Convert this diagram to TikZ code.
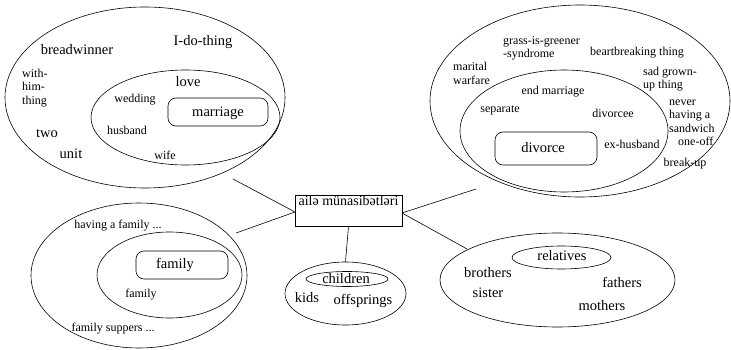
\documentclass[tikz,border=0pt]{standalone}
\usepackage{fontspec}
\setmainfont{Liberation Serif}
\usetikzlibrary{shapes.geometric}
\begin{document}
\begin{tikzpicture}[x=1pt,y=-1pt,
  ell/.style={draw, ellipse, inner sep=0pt, line width=0.6pt},
  rbox/.style={draw, rounded corners=8pt, inner sep=0pt, line width=0.6pt},
  big/.style={font=\fontsize{14.5}{16}\selectfont, inner sep=0pt},
  small/.style={font=\fontsize{12}{13.5}\selectfont, inner sep=0pt, align=left},
  conn/.style={line width=0.6pt}]
\useasboundingbox (0,0) rectangle (731,350);
% top-left cluster
\node[ell, minimum width=280pt, minimum height=181pt] (tlo) at (145,97.5) {};
\node[ell, minimum width=189pt, minimum height=95pt] (tli) at (185.5,117.5) {};
\node[rbox, minimum width=100pt, minimum height=28pt] (marriagebox) at (218,112) {};
\node[big] (marriage) at (218,113) {marriage};
\node[big] (breadwinner) at (77,50) {breadwinner};
\node[big] (idothing) at (203,42) {I-do-thing};
\node[small, anchor=west] (withhim) at (22,88) {with-\\him-\\thing};
\node[big] (two) at (47,133) {two};
\node[big] (unit) at (71,154) {unit};
\node[big] (love) at (188,82) {love};
\node[small] (wedding) at (135,100) {wedding};
\node[small] (husband) at (127,130) {husband};
\node[small] (wife) at (165,155) {wife};
% top-right cluster
\node[ell, minimum width=300pt, minimum height=192pt] (tro) at (580,101) {};
\node[ell, minimum width=208pt, minimum height=122pt] (tri) at (564,131) {};
\node[rbox, minimum width=102pt, minimum height=33pt] (divorcebox) at (546,148.5) {};
\node[big] (divorce) at (543,148) {divorce};
\node[small, anchor=west] (grass) at (503,48.5) {grass-is-greener\\-syndrome};
\node[small] (beart) at (637,53) {beartbreaking thing};
\node[small, anchor=west] (marital) at (453,73.5) {marital\\warfare};
\node[small, anchor=west] (sad) at (643,79) {sad grown-\\up thing};
\node[small] (endmarriage) at (553,92) {end marriage};
\node[small] (separate) at (500,110) {separate};
\node[small] (divorcee) at (613,113) {divorcee};
\node[small, anchor=west] (never) at (669,116) {never\\having a\\sandwich};
\node[small, anchor=west] (oneoff) at (678,141) {one-off};
\node[small] (exhusband) at (632,144) {ex-husband};
\node[small] (breakup) at (685,164) {break-up};
% bottom-left cluster
\node[ell, minimum width=216pt, minimum height=145pt] (blo) at (139,275.5) {};
\node[ell, minimum width=145pt, minimum height=86pt] (bli) at (169.5,275) {};
\node[rbox, minimum width=92pt, minimum height=28pt] (familybox) at (182,265) {};
\node[big] (family) at (175,265) {family};
\node[small] (having) at (118,226) {having a family ...};
\node[small] (familysmall) at (141,295) {family};
\node[small] (suppers) at (113,329) {family suppers ...};
% children cluster
\node[ell, minimum width=121pt, minimum height=63pt] (cho) at (345.5,293.5) {};
\node[ell, minimum width=82pt, minimum height=15pt] (chi) at (347,279) {};
\node[big] (children) at (346,279) {children};
\node[big] (kids) at (307,298) {kids};
\node[big] (offsprings) at (363,301) {offsprings};
% relatives cluster
\node[ell, minimum width=235pt, minimum height=94pt] (relo) at (557.5,280) {};
\node[ell, minimum width=99pt, minimum height=23pt] (reli) at (561.5,257.5) {};
\node[big] (relatives) at (562,256) {relatives};
\node[big] (brothers) at (488,273) {brothers};
\node[big] (sister) at (488,293) {sister};
\node[big] (fathers) at (622,282) {fathers};
\node[big] (mothers) at (602,306) {mothers};
% center box
\node[draw, line width=0.6pt, minimum width=107pt, minimum height=31pt, inner sep=0pt] (center) at (348.5,210.5) {};
\node[font=\fontsize{14}{16}\selectfont, inner sep=1pt, anchor=north] (centertext) at (center.north) {ailə münasibətləri};
% connectors
\coordinate (lmeet) at (295,212);
\coordinate (rmeet) at (402,213);
\coordinate (tlend) at (233,179);
\coordinate (blend) at (236,233);
\coordinate (trend) at (476,189);
\coordinate (brend) at (467,249);
\draw[conn] (lmeet) -- (tlend);
\draw[conn] (lmeet) -- (blend);
\draw[conn] (rmeet) -- (trend);
\draw[conn] (rmeet) -- (brend);
\draw[conn] (center.south) -- (cho.north);
\end{tikzpicture}
\end{document}
